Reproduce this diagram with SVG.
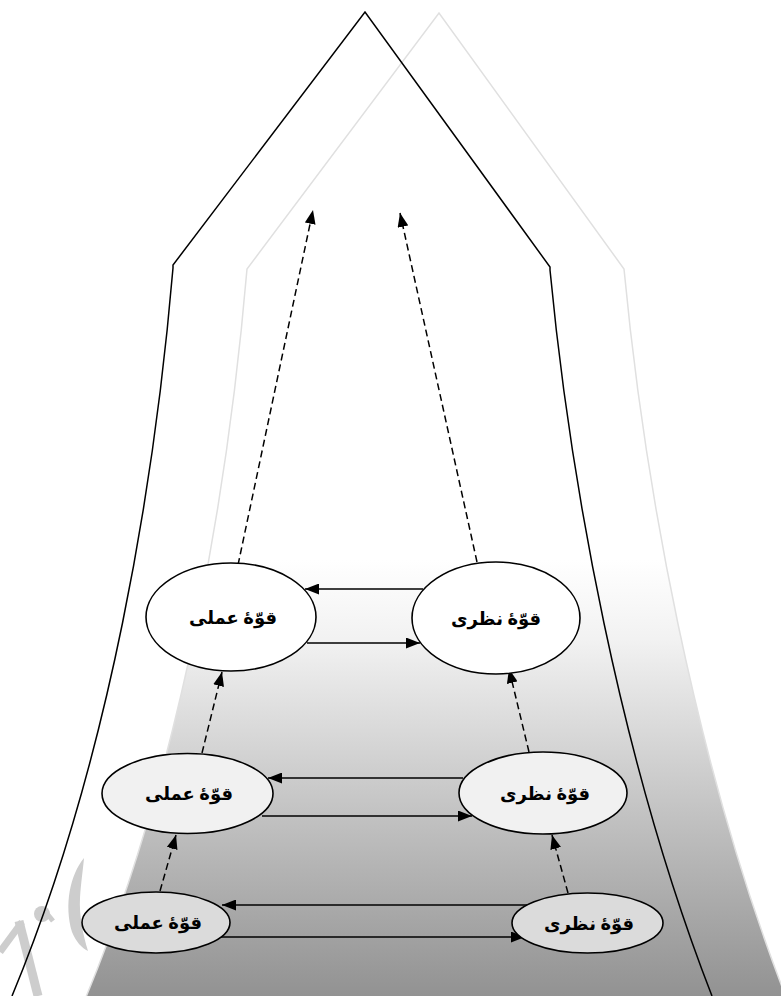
<svg xmlns="http://www.w3.org/2000/svg" width="781" height="996" viewBox="0 0 781 996">
<defs>
<linearGradient id="shade" gradientUnits="userSpaceOnUse" x1="0" y1="560" x2="0" y2="996">
<stop offset="0" stop-color="#ffffff"/>
<stop offset="0.18" stop-color="#f2f2f2"/>
<stop offset="0.45" stop-color="#d2d2d2"/>
<stop offset="0.72" stop-color="#b2b2b2"/>
<stop offset="1" stop-color="#929292"/>
</linearGradient>
<marker id="ah" markerUnits="userSpaceOnUse" markerWidth="14" markerHeight="11" refX="14" refY="5.5" orient="auto">
<path d="M0,0 L14,5.5 L0,11 Z" fill="#000"/>
</marker>
</defs>
<style>
.outline{fill:none;stroke:#000;stroke-width:1.5}
.shadow{fill:url(#shade);stroke:#e0e0e0;stroke-width:1.5}
.solid{fill:none;stroke:#000;stroke-width:1.5;marker-end:url(#ah)}
.dash{fill:none;stroke:#000;stroke-width:1.5;stroke-dasharray:7,4;marker-end:url(#ah)}
.node ellipse{stroke:#000;stroke-width:1.6}
.n1 ellipse{fill:#ffffff}
.n2 ellipse{fill:#f1f1f1}
.n3 ellipse{fill:#dbdbdb}
.node text{font-family:"Liberation Serif","DejaVu Sans",serif;font-weight:bold;font-size:18px;fill:#000;text-anchor:middle}
.wm{fill:none;stroke:#cdcdcd;stroke-linecap:butt}
</style>
<g id="background">
<path class="shadow" d="M86,997 C184,761 229,481 247,269 L439,13 L624,269 C644,481 694,761 786,997 Z"/>
<g id="watermark">
<path d="M84,858 C70,875 64,905 72,932 C76,942 82,948 88,951 C83,935 79,915 80,898 C81,882 83,870 84,858 Z" fill="#cdcdcd"/>
<path class="wm" stroke-width="7" d="M0,952 L22,922"/>
<path class="wm" stroke-width="9" d="M19,921 L38,996"/>
<circle cx="42" cy="914" r="8" fill="#cdcdcd"/>
<path class="wm" stroke-width="5" d="M44,910 L53,921"/>
</g>
<path class="outline" d="M12,996 C110,760 155,480 173,268 L173,265 L365,12 L550,267 L550,270 C570,480 620,760 712,996"/>
</g>
<g id="connectors">
<path class="solid" d="M423,589 L305,589"/>
<path class="solid" d="M307,643 L420,643"/>
<path class="solid" d="M463,778 L268,778"/>
<path class="solid" d="M262,816 L472,816"/>
<path class="solid" d="M527,905 L222,905"/>
<path class="solid" d="M217,937 L525,937"/>
<path class="dash" d="M238,565 L313,210"/>
<path class="dash" d="M477,562 L400,213"/>
<path class="dash" d="M202,753 L222,672"/>
<path class="dash" d="M529,752 L509,669"/>
<path class="dash" d="M160,891 L176,835"/>
<path class="dash" d="M568,893 L552,835"/>
</g>
<g id="node-amali-1" class="node n1">
<ellipse cx="231" cy="617" rx="85" ry="54"/>
<text x="233" y="624">قوّهٔ عملی</text>
</g>
<g id="node-nazari-1" class="node n1">
<ellipse cx="496" cy="618" rx="84" ry="56"/>
<text x="496" y="625">قوّهٔ نظری</text>
</g>
<g id="node-amali-2" class="node n2">
<ellipse cx="187.5" cy="793.5" rx="85.5" ry="40"/>
<text x="189" y="800">قوّهٔ عملی</text>
</g>
<g id="node-nazari-2" class="node n2">
<ellipse cx="543" cy="793" rx="84" ry="41"/>
<text x="545" y="800">قوّهٔ نظری</text>
</g>
<g id="node-amali-3" class="node n3">
<ellipse cx="156" cy="922.5" rx="74" ry="30.5"/>
<text x="158" y="929">قوّهٔ عملی</text>
</g>
<g id="node-nazari-3" class="node n3">
<ellipse cx="587.5" cy="923" rx="75.5" ry="30"/>
<text x="589" y="930">قوّهٔ نظری</text>
</g>
</svg>
